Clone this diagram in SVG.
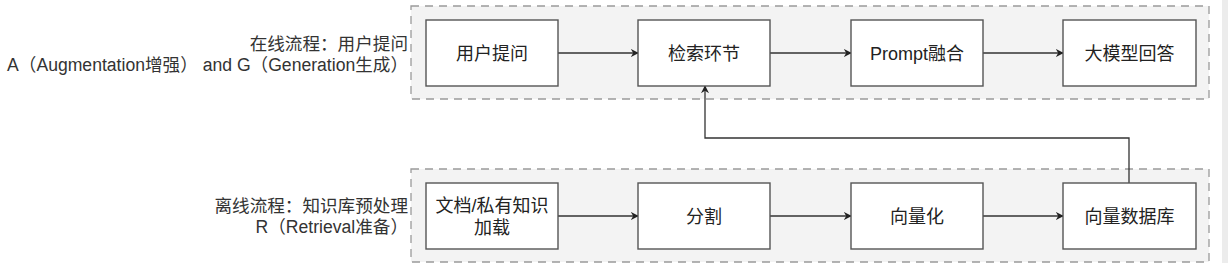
<svg xmlns="http://www.w3.org/2000/svg" width="1228" height="263" viewBox="0 0 1228 263">
  <defs>
    <marker id="arrow" viewBox="0 0 10 10" refX="9" refY="5" markerWidth="8" markerHeight="8" markerUnits="userSpaceOnUse" orient="auto">
      <path d="M0,0 L10,5 L0,10 L3,5 Z" fill="#222"/>
    </marker>
    <style>
      .lane { fill: #f3f3f3; stroke: #9a9a9a; stroke-width: 1.3; stroke-dasharray: 8 6; }
      .node rect { fill: #ffffff; stroke: #555555; stroke-width: 1.4; }
      .node text { font-family: "Liberation Sans", "Noto Sans CJK SC", sans-serif; font-size: 18px; fill: #222; text-anchor: middle; }
      .label { font-family: "Liberation Sans", "Noto Sans CJK SC", sans-serif; font-size: 17.6px; fill: #333; text-anchor: end; }
      .edge { fill: none; stroke: #333; stroke-width: 1.3; marker-end: url(#arrow); }
    </style>
  </defs>
  <rect x="0" y="0" width="1228" height="263" fill="#ffffff"/>
  <rect x="1222" y="0" width="6" height="263" fill="#ececec"/>

  <g id="lanes">
    <rect class="lane" x="411" y="6" width="798" height="93"/>
    <rect class="lane" x="411" y="169" width="798" height="93"/>
  </g>

  <g id="lane-labels">
    <text class="label" x="408" y="49.5">在线流程：用户提问</text>
    <text class="label" x="408" y="71">A（Augmentation增强） and G（Generation生成）</text>
    <text class="label" x="408" y="212">离线流程：知识库预处理</text>
    <text class="label" x="408" y="233">R（Retrieval准备）</text>
  </g>

  <g id="connectors">
    <line class="edge" x1="558" y1="53" x2="638" y2="53"/>
    <line class="edge" x1="770" y1="53" x2="851" y2="53"/>
    <line class="edge" x1="983" y1="53" x2="1063" y2="53"/>
    <line class="edge" x1="558" y1="216" x2="638" y2="216"/>
    <line class="edge" x1="770" y1="216" x2="851" y2="216"/>
    <line class="edge" x1="983" y1="216" x2="1063" y2="216"/>
    <path class="edge" d="M1129,183 V138 H705 V86"/>
  </g>

  <g id="n-ask" class="node"><rect x="426" y="20" width="132" height="66"/><text x="492" y="59.5">用户提问</text></g>
  <g id="n-retrieve" class="node"><rect x="638" y="20" width="132" height="66"/><text x="704" y="59.5">检索环节</text></g>
  <g id="n-prompt" class="node"><rect x="851" y="20" width="132" height="66"/><text x="917" y="59.5">Prompt融合</text></g>
  <g id="n-answer" class="node"><rect x="1063" y="20" width="133" height="66"/><text x="1129.5" y="59.5">大模型回答</text></g>

  <g id="n-load" class="node"><rect x="426" y="183" width="132" height="66"/><text x="492" y="211.5">文档/私有知识</text><text x="492" y="233.5">加载</text></g>
  <g id="n-split" class="node"><rect x="638" y="183" width="132" height="66"/><text x="704" y="222.5">分割</text></g>
  <g id="n-embed" class="node"><rect x="851" y="183" width="132" height="66"/><text x="917" y="222.5">向量化</text></g>
  <g id="n-vdb" class="node"><rect x="1063" y="183" width="133" height="66"/><text x="1129.5" y="222.5">向量数据库</text></g>
</svg>
